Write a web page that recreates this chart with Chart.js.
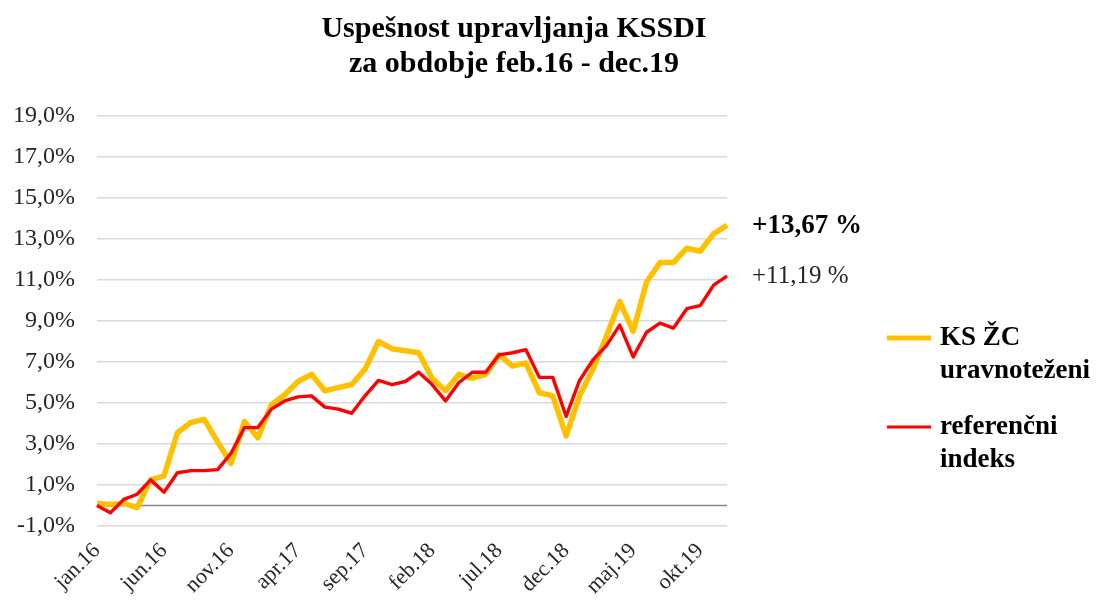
<!DOCTYPE html>
<html>
<head>
<meta charset="utf-8">
<script src="https://cdn.jsdelivr.net/npm/chart.js@4.4.1/dist/chart.umd.min.js"></script>
<style>
  html, body { margin: 0; padding: 0; background: #fff; }
  #wrap { width: 1105px; height: 606px; }
</style>
</head>
<body>
<div id="wrap"><canvas id="chart" width="1105" height="606"></canvas></div>
<script>
// months jan.16 .. dec.19
const monthNames = ["jan", "feb", "mar", "apr", "maj", "jun", "jul", "avg", "sep", "okt", "nov", "dec"];
const years = ["16", "17", "18", "19"];
const months = years.flatMap((y) => monthNames.map((m) => m + "." + y));

// cumulative return, %
const ksZc = [
  0.1, 0.05, 0.1, -0.1, 1.25, 1.45, 3.55, 4.05, 4.2, 3.1,
  2.05, 4.1, 3.3, 4.9, 5.4, 6.05, 6.4, 5.6, 5.75, 5.9,
  6.65, 8.0, 7.65, 7.55, 7.45, 6.2, 5.6, 6.4, 6.2, 6.4,
  7.35, 6.8, 6.95, 5.5, 5.35, 3.4, 5.35, 6.65, 8.25, 9.95,
  8.5, 10.9, 11.85, 11.85, 12.55, 12.4, 13.25, 13.67
];
const refIndex = [
  0.0, -0.35, 0.3, 0.55, 1.25, 0.65, 1.6, 1.7, 1.7, 1.75,
  2.55, 3.8, 3.8, 4.7, 5.1, 5.3, 5.35, 4.8, 4.7, 4.5,
  5.35, 6.1, 5.9, 6.05, 6.5, 5.9, 5.1, 6.0, 6.5, 6.5,
  7.35, 7.45, 7.6, 6.25, 6.25, 4.35, 6.1, 7.1, 7.8, 8.8,
  7.25, 8.45, 8.9, 8.65, 9.6, 9.75, 10.75, 11.19
];
const seriesNames = [["KS ŽC", "uravnoteženi"], ["referenčni", "indeks"]];
const titleLines = ["Uspešnost upravljanja KSSDI", "za obdobje feb.16 - dec.19"];
const endLabels = ["+13,67 %", "+11,19 %"];

const serif = "'Liberation Serif', 'DejaVu Serif', serif";
const yellow = "#FFC000";
const red = "#FF0000";

// title, zero line, legend and end-of-line labels
const extras = {
  id: "extras",
  beforeDatasetsDraw(chart) {
    const { ctx, chartArea, scales } = chart;
    const y0 = scales.y.getPixelForValue(0);
    ctx.save();
    ctx.strokeStyle = "#868686";
    ctx.lineWidth = 1.5;
    ctx.beginPath();
    ctx.moveTo(chartArea.left, y0);
    ctx.lineTo(chartArea.right, y0);
    ctx.stroke();
    ctx.restore();
  },
  afterDraw(chart) {
    const { ctx, scales } = chart;
    ctx.save();
    ctx.fillStyle = "#000";
    ctx.textAlign = "center";
    ctx.textBaseline = "middle";
    ctx.font = "bold 30px " + serif;
    ctx.fillText(titleLines[0], 514, 29);
    ctx.fillText(titleLines[1], 514, 64);

    // end labels
    ctx.textAlign = "left";
    ctx.font = "bold 27px " + serif;
    ctx.fillText(endLabels[0], 752, scales.y.getPixelForValue(ksZc[ksZc.length - 1]) + 1);
    ctx.font = "25px " + serif;
    ctx.fillStyle = "#262626";
    ctx.fillText(endLabels[1], 752, scales.y.getPixelForValue(refIndex[refIndex.length - 1]));

    // legend
    const items = [
      { color: yellow, width: 5, y: 338, text: seriesNames[0] },
      { color: red, width: 3, y: 427, text: seriesNames[1] }
    ];
    ctx.font = "bold 27px " + serif;
    ctx.fillStyle = "#000";
    items.forEach((it) => {
      ctx.strokeStyle = it.color;
      ctx.lineWidth = it.width;
      ctx.beginPath();
      ctx.moveTo(887, it.y);
      ctx.lineTo(931, it.y);
      ctx.stroke();
      it.text.forEach((line, i) => ctx.fillText(line, 940, it.y + i * 33));
    });
    ctx.restore();
  }
};

new Chart(document.getElementById("chart"), {
  type: "line",
  data: {
    labels: months,
    datasets: [
      {
        label: seriesNames[0].join(" "),
        data: ksZc,
        borderColor: yellow,
        borderWidth: 5.5,
        pointRadius: 0,
        tension: 0,
        borderJoinStyle: "round",
        order: 1
      },
      {
        label: seriesNames[1].join(" "),
        data: refIndex,
        borderColor: red,
        borderWidth: 3.4,
        pointRadius: 0,
        tension: 0,
        borderJoinStyle: "round",
        order: 0
      }
    ]
  },
  options: {
    responsive: false,
    animation: false,
    layout: { padding: { top: 116, right: 378, left: 0, bottom: 0 } },
    plugins: {
      legend: { display: false },
      title: { display: false },
      tooltip: { enabled: false }
    },
    scales: {
      x: {
        offset: false,
        grid: { display: false },
        border: { display: false },
        afterFit: (scale) => { scale.height = 80; },
        ticks: {
          autoSkip: false,
          maxRotation: 45,
          minRotation: 45,
          padding: 4,
          color: "#262626",
          font: { family: serif, size: 22 },
          callback: (v, i) => (i % 5 === 0 ? months[i] : "")
        }
      },
      y: {
        min: -1,
        max: 19,
        border: { display: false },
        grid: { color: "#d9d9d9", lineWidth: 1.5, drawTicks: false },
        afterFit: (scale) => { scale.width = 97; },
        ticks: {
          stepSize: 2,
          padding: 22,
          color: "#262626",
          font: { family: serif, size: 24 },
          callback: (v) => v.toFixed(1).replace(".", ",") + "%"
        }
      }
    }
  },
  plugins: [extras]
});
</script>
</body>
</html>
